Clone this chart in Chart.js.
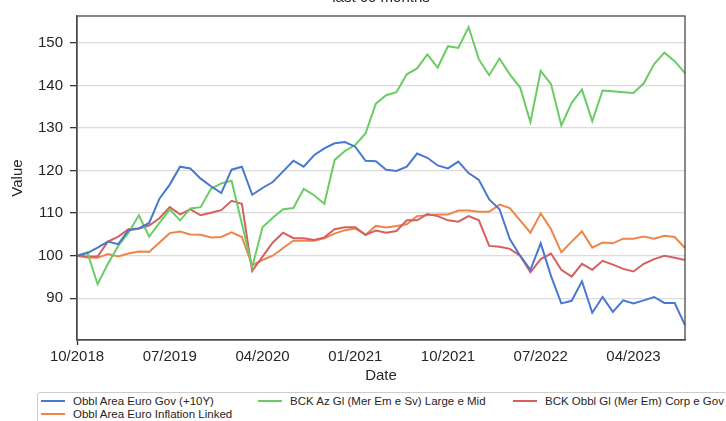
<!DOCTYPE html>
<html lang="en">
<head>
    <meta charset="UTF-8">
    <title>last 60 months</title>
    <style>
        body {
            margin: 0;
            padding: 0;
            background: #fff;
            font-family: 'Liberation Sans', Arial, sans-serif;
            overflow: hidden;
        }
        #wrap {
            position: relative;
            width: 726px;
            height: 421px;
        }
        #legend {
            position: absolute;
            left: 37px;
            top: 392px;
            width: 700px;
            height: 40px;
            border: 1px solid #cccccc;
            border-radius: 3px;
            background: #fff;
            font-size: 11.5px;
            color: #262626;
        }
        .item {
            position: absolute;
            white-space: nowrap;
            line-height: 13px;
        }
        .swatch {
            display: inline-block;
            width: 24px;
            height: 2px;
            vertical-align: middle;
            margin-right: 8px;
            margin-top: -2px;
        }
    </style>
    <script src="https://cdn.jsdelivr.net/npm/chart.js"></script>
</head>
<body>
<div id="wrap">
    <canvas id="chart" width="726" height="421"></canvas>
    <div id="legend"></div>
</div>

<script>
    // series, monthly from 10/2018, base 100
    const seriesNames = [
        'Obbl Area Euro Gov (+10Y)',
        'BCK Az Gl (Mer Em e Sv) Large e Mid',
        'BCK Obbl Gl (Mer Em) Corp e Gov',
        'Obbl Area Euro Inflation Linked'
    ];
    const seriesColors = ['#4878d0', '#6acc64', '#d65f5f', '#ee854a'];

    const govLong = [
        100, 100.6, 101.9, 103.3, 102.7, 106, 106.4, 107.7, 113.4, 116.7,
        120.9, 120.5, 118.1, 116.3, 114.7, 120.2, 120.9, 114.3, 115.9, 117.3,
        119.8, 122.3, 120.9, 123.6, 125.2, 126.4, 126.7, 125.6, 122.3, 122.2,
        120.2, 119.9, 120.9, 124, 123, 121.2, 120.5, 122.1, 119.4, 117.8,
        113.2, 110.9, 103.9, 100, 96.7, 102.9, 95.2, 88.8, 89.4, 94,
        86.6, 90.3, 86.8, 89.5, 88.8, 89.5, 90.3, 88.9, 88.9, 83.7
    ];
    const equityGlobal = [
        100, 100.8, 93.3, 98.1, 102.3, 105.4, 109.5, 104.5, 107.7, 110.9,
        108.3, 111.1, 111.4, 115.7, 117, 117.6, 107.5, 97.3, 106.7, 108.9,
        110.9, 111.2, 115.7, 114.2, 112.2, 122.5, 124.6, 126, 128.7, 135.7,
        137.7, 138.4, 142.6, 144, 147.3, 144.2, 149.2, 148.8, 153.7, 146.1,
        142.4, 146.3, 142.6, 139.5, 131.4, 143.4, 140.3, 130.6, 135.9, 139,
        131.6, 138.8, 138.6, 138.4, 138.2, 140.5, 145, 147.7, 145.7, 142.9
    ];
    const bondGlobal = [
        100, 99.8, 99.8, 103.3, 104.5, 106.2, 106.4, 107.1, 108.8, 111.4,
        109.7, 110.9, 109.5, 110.1, 110.7, 112.9, 112.2, 96.4, 99.8, 103.1,
        105.4, 104.1, 104.1, 103.7, 104.3, 106.2, 106.7, 106.7, 104.9, 105.9,
        105.4, 105.8, 108.3, 108.3, 109.8, 109.3, 108.3, 108, 109.3, 108.3,
        102.3, 102.1, 101.6, 100, 96.1, 99.2, 100.5, 96.7, 95.1, 98.1,
        96.7, 98.8, 97.9, 96.9, 96.3, 98.1, 99.2, 100, 99.5, 99
    ];
    const inflationLinked = [
        100, 99.6, 99.5, 100.4, 99.8, 100.5, 101, 100.9, 103.1, 105.3,
        105.7, 105, 104.9, 104.3, 104.4, 105.5, 104.4, 97.7, 99, 100,
        101.8, 103.5, 103.5, 103.5, 104.1, 105.2, 106, 106.4, 104.9, 107,
        106.6, 107, 107.4, 109.3, 109.5, 109.7, 109.7, 110.6, 110.6, 110.3,
        110.3, 112, 111.2, 108.3, 105.4, 109.9, 106.2, 100.8, 103.3, 105.7,
        101.9, 103.1, 102.9, 104, 104, 104.5, 104, 104.7, 104.4, 101.8
    ];
    const seriesValues = [govLong, equityGlobal, bondGlobal, inflationLinked];

    const yTicks = [90, 100, 110, 120, 130, 140, 150];
    const xTickLabels = ['10/2018', '07/2019', '04/2020', '01/2021', '10/2021', '07/2022', '04/2023'];

    // month labels MM/YYYY starting 10/2018
    const months = [];
    for (let i = 0; i < govLong.length; i++) {
        const m = (9 + i) % 12 + 1;
        const y = 2018 + Math.floor((9 + i) / 12);
        months.push(String(m).padStart(2, '0') + '/' + y);
    }

    const frameAndTitle = {
        id: 'frameAndTitle',
        afterDraw(chart) {
            const { ctx, chartArea } = chart;
            ctx.save();
            ctx.strokeStyle = '#4a4a4a';
            ctx.lineWidth = 1.3;
            ctx.strokeRect(chartArea.left, chartArea.top, chartArea.right - chartArea.left, chartArea.bottom - chartArea.top);
            ctx.fillStyle = '#262626';
            ctx.font = "15px 'Liberation Sans', Arial, sans-serif";
            ctx.textAlign = 'center';
            ctx.textBaseline = 'alphabetic';
            ctx.fillText('last 60 months', (chartArea.left + chartArea.right) / 2, 2);
            ctx.restore();
        }
    };

    function renderChart() {
        const ctx = document.getElementById('chart').getContext('2d');
        new Chart(ctx, {
            type: 'line',
            data: {
                labels: months,
                datasets: seriesNames.map((name, i) => ({
                    label: name,
                    data: seriesValues[i],
                    borderColor: seriesColors[i],
                    backgroundColor: seriesColors[i],
                    borderWidth: 2,
                    pointRadius: 0,
                    tension: 0,
                    fill: false
                }))
            },
            options: {
                responsive: false,
                animation: false,
                layout: { padding: { top: 13, right: 41, left: 0, bottom: 0 } },
                plugins: {
                    legend: { display: false },
                    title: { display: false },
                    tooltip: { enabled: false }
                },
                scales: {
                    x: {
                        type: 'category',
                        offset: false,
                        afterFit: scale => { scale.height = 81; },
                        grid: {
                            drawOnChartArea: false,
                            color: 'transparent',
                            tickColor: c => xTickLabels.includes(months[c.index]) ? '#333' : 'transparent',
                            tickLength: 5,
                            tickWidth: 1.3
                        },
                        border: { color: '#4a4a4a', width: 1.3 },
                        ticks: {
                            autoSkip: false,
                            maxRotation: 0,
                            padding: 3,
                            color: '#262626',
                            font: { family: "'Liberation Sans', Arial, sans-serif", size: 15 },
                            callback: (v, i) => xTickLabels.includes(months[i]) ? months[i] : null
                        },
                        title: {
                            display: true,
                            text: 'Date',
                            color: '#262626',
                            font: { family: "'Liberation Sans', Arial, sans-serif", size: 15 },
                            padding: { top: 0, bottom: 36 }
                        }
                    },
                    y: {
                        min: 80.2,
                        max: 156.3,
                        afterFit: scale => { scale.width = 77; },
                        afterBuildTicks: scale => { scale.ticks = yTicks.map(v => ({ value: v })); },
                        grid: {
                            color: '#dcdcdc',
                            lineWidth: 1.3,
                            tickColor: '#333',
                            tickLength: 7,
                            drawTicks: true
                        },
                        border: { color: '#4a4a4a', width: 1.3 },
                        ticks: {
                            padding: 7,
                            color: '#262626',
                            font: { family: "'Liberation Sans', Arial, sans-serif", size: 15 }
                        },
                        title: {
                            display: true,
                            text: 'Value',
                            color: '#262626',
                            font: { family: "'Liberation Sans', Arial, sans-serif", size: 15 },
                            padding: { top: 9, bottom: 0 }
                        }
                    }
                }
            },
            plugins: [frameAndTitle]
        });
    }

    function renderLegend() {
        const box = document.getElementById('legend');
        const colX = [3, 220, 475];
        seriesNames.forEach((name, i) => {
            const el = document.createElement('div');
            el.className = 'item';
            el.style.left = colX[i % 3] + 'px';
            el.style.top = (2 + Math.floor(i / 3) * 13) + 'px';
            el.innerHTML = '<span class="swatch" style="background:' + seriesColors[i] + '"></span>' + name;
            box.appendChild(el);
        });
    }

    document.addEventListener('DOMContentLoaded', () => {
        renderChart();
        renderLegend();
    });
</script>
</body>
</html>
